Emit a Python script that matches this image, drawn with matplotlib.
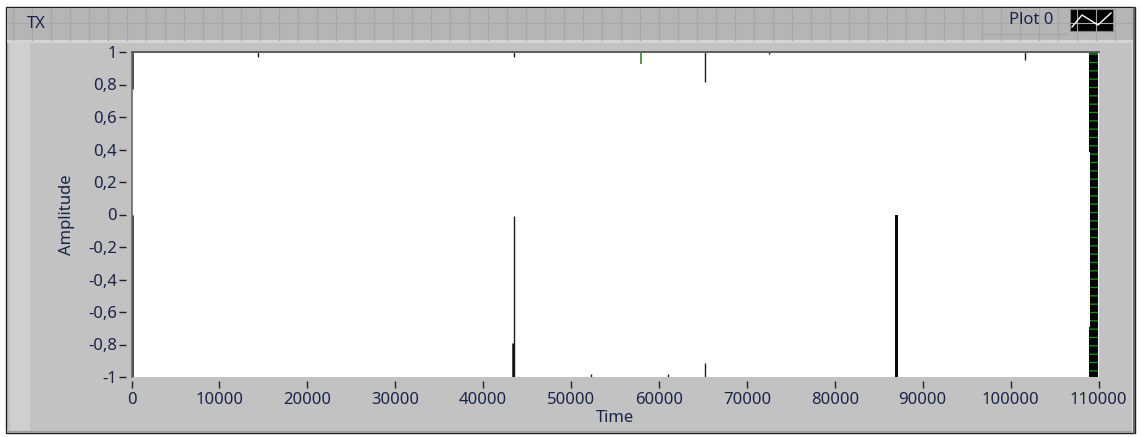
import numpy as np
import matplotlib
matplotlib.use('Agg')
import matplotlib.pyplot as plt
from matplotlib.patches import Rectangle

plt.rcParams['font.family'] = ['Noto Sans', 'DejaVu Sans']
plt.rcParams['hatch.linewidth'] = 0.9

W, H = 1141, 437

x_ticks = [0, 10000, 20000, 30000, 40000, 50000, 60000, 70000, 80000, 90000, 100000, 110000]
x_tick_labels = [str(v) for v in x_ticks]
y_ticks = [1, 0.8, 0.6, 0.4, 0.2, 0, -0.2, -0.4, -0.6, -0.8, -1]
y_tick_labels = ['1', '0,8', '0,6', '0,4', '0,2', '0', '-0,2', '-0,4', '-0,6', '-0,8', '-1']

# single-sample glitches: sample index, low, high
thin_t = [14400, 43550, 72500, 101650, 65250, 65250, 52300, 61000, 43500]
thin_lo = [0.97, 0.967, 0.986, 0.95, 0.817, -1.0, -1.0, -1.0, -1.0]
thin_hi = [1.0, 1.0, 1.0, 1.0, 1.0, -0.914, -0.98, -0.98, -0.01]

green_t = [58000]
green_lo = [0.926]
green_hi = [1.0]

thick_t = [0, 0, 43420]
thick_lo = [0.77, -1.0, -1.0]
thick_hi = [1.0, 0.0, -0.79]

# short burst around 87000
mid_start = [86880]
mid_end = [87180]
mid_lo = [-1.0]
mid_hi = [0.0]

# dense burst at the end of the record (start, end, low, high)
burst_start = [109000, 108870, 108870]
burst_end = [110000, 109000, 109000]
burst_lo = [-1.0, 0.386, -1.0]
burst_hi = [1.0, 1.0, -0.69]

TXT = '#1b2348'
FS = 12

fig = plt.figure(figsize=(W / 100, H / 100), dpi=100)
fig.patch.set_facecolor('white')

# panel chrome drawn in pixel coordinates
bg = fig.add_axes([0, 0, 1, 1], zorder=0)
bg.set_xlim(0, W)
bg.set_ylim(H, 0)
bg.axis('off')

bg.add_patch(Rectangle((6, 7), 1129, 426, fc='#c2c2c2', ec='#1e1e1e', lw=1))
bg.add_patch(Rectangle((7, 8), 1127, 32, fc='#b5b5b5', ec='none'))
for gx in np.arange(13, 1135, 19):
    bg.plot([gx, gx], [8, 40], color='#a4a4a4', lw=0.8)
bg.plot([7, 1134], [23, 23], color='#a8a8a8', lw=0.8)
bg.add_patch(Rectangle((7, 40), 1127, 3, fc='#d4d4d4', ec='none'))
bg.add_patch(Rectangle((10, 43), 20, 388, fc='#cfcfcf', ec='none'))
bg.plot([7, 1134], [431, 431], color='#a0a0a0', lw=1)

# shading along the right edge of the graph body
shade = np.linspace(0.77, 0.55, 64).reshape(1, -1)
bg.imshow(shade, extent=(1108, 1131, 431, 43), cmap='gray', vmin=0, vmax=1,
          aspect='auto', interpolation='bilinear')
bg.plot([1132, 1132], [43, 431], color='#dadada', lw=1)
bg.plot([1134, 1134], [8, 433], color='#5a5a5a', lw=1.2)

bg.text(27, 24, 'TX', fontsize=FS, color=TXT, va='center', ha='left')

# legend
leg = np.linspace(0.86, 0.78, 64).reshape(1, -1)
bg.imshow(leg, extent=(981, 1068, 34, 8), cmap='gray', vmin=0, vmax=1,
          aspect='auto', interpolation='bilinear')
bg.plot([981, 1068], [34, 34], color='#a8a8a8', lw=1)
bg.text(1053, 20, 'Plot 0', fontsize=FS, color=TXT, va='center', ha='right')
bg.add_patch(Rectangle((1070, 9), 43, 22, fc='black', ec='#808080', lw=0.8))
bg.plot([1072, 1082, 1098, 1111], [27, 15, 25, 13], color='white', lw=1)

ax = fig.add_axes([131.5 / W, (H - 377) / H, 967 / W, 325 / H], zorder=1)
ax.set_facecolor('white')
ax.set_xlim(0, 110000)
ax.set_ylim(-1, 1)

ax.vlines(thin_t, thin_lo, thin_hi, color='#1a1a1a', lw=1)
ax.vlines(green_t, green_lo, green_hi, color='#3f7f3f', lw=1.2)
ax.vlines(thick_t, thick_lo, thick_hi, color='#111111', lw=1.8)
ax.bar(mid_start, np.array(mid_hi) - np.array(mid_lo),
       width=np.array(mid_end) - np.array(mid_start), bottom=mid_lo,
       align='edge', color='#080808', lw=0)
ax.bar(burst_start, np.array(burst_hi) - np.array(burst_lo),
       width=np.array(burst_end) - np.array(burst_start), bottom=burst_lo,
       align='edge', color='#050505', edgecolor='#1f8a1f', lw=0, hatch='--')

for s in ax.spines.values():
    s.set_visible(False)
ax.spines['left'].set_position(('outward', 4))
ax.spines['bottom'].set_position(('outward', 3))
ax.plot([0, 0], [0, 1], transform=ax.transAxes, color='#6a6a6a', lw=1.2, clip_on=False)
ax.plot([0, 1], [1, 1], transform=ax.transAxes, color='#5e5e5e', lw=1.4, clip_on=False)

ax.set_xticks(x_ticks)
ax.set_xticklabels(x_tick_labels)
ax.set_yticks(y_ticks)
ax.set_yticklabels(y_tick_labels)
ax.tick_params(axis='y', length=5, width=1, color='#202020', pad=1.5,
               labelsize=FS, labelcolor=TXT)
ax.tick_params(axis='x', length=5, width=1, color='#202020', pad=3,
               labelsize=FS, labelcolor=TXT)

ax.set_xlabel('Time', fontsize=FS, color=TXT)
ax.set_ylabel('Amplitude', fontsize=FS, color=TXT)
ax.xaxis.set_label_coords(0.5, -0.1)
ax.yaxis.set_label_coords(-0.058, 0.5)

fig.savefig('out.png', dpi=100, facecolor='white')
